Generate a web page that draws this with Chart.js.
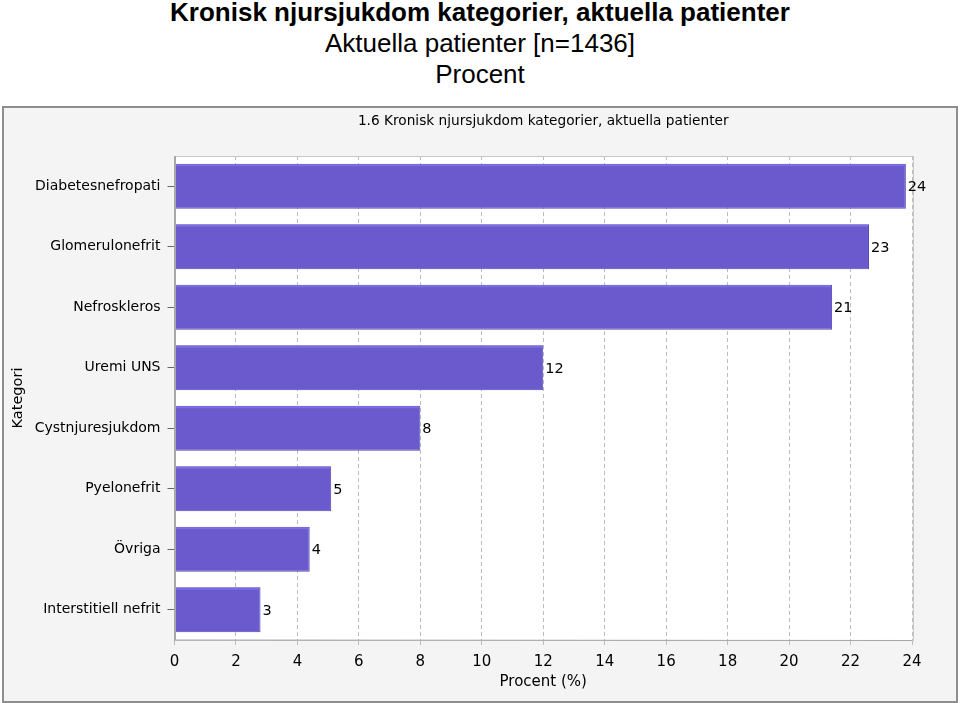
<!DOCTYPE html>
<html>
<head>
<meta charset="utf-8">
<script src="https://cdn.jsdelivr.net/npm/chart.js@4.4.1/dist/chart.umd.min.js"></script>
<style>
  html, body { margin: 0; padding: 0; background: #ffffff; width: 960px; height: 703px; overflow: hidden; }
  .hdr { position: absolute; left: 0; width: 960px; text-align: center; color: #000;
         font-family: "Liberation Sans Narrow", "Liberation Sans", Arial, sans-serif; font-size: 26px; line-height: 26px; white-space: nowrap; }
  #t1 { top: -1px; font-weight: bold; }
  #t2 { top: 30px; }
  #t3 { top: 61px; }
  #panel { position: absolute; left: 2px; top: 106px; width: 956px; height: 597px; box-sizing: border-box;
           border: 2px solid #8e8e8e; background: #f4f4f4; }
  #c { position: absolute; left: 0; top: 0; }
</style>
</head>
<body>
<div class="hdr" id="t1">Kronisk njursjukdom kategorier, aktuella patienter</div>
<div class="hdr" id="t2">Aktuella patienter [n=1436]</div>
<div class="hdr" id="t3">Procent</div>
<div id="panel"><canvas id="c" width="952" height="593"></canvas></div>
<script>
const chartTitle = "1.6 Kronisk njursjukdom kategorier, aktuella patienter";
const categories = ["Diabetesnefropati", "Glomerulonefrit", "Nefroskleros", "Uremi UNS",
                    "Cystnjuresjukdom", "Pyelonefrit", "Övriga", "Interstitiell nefrit"];
const percentValues = [23.8, 22.6, 21.4, 12.0, 8.0, 5.1, 4.4, 2.8];
const valueLabels = ["24", "23", "21", "12", "8", "5", "4", "3"];
const xAxisTitle = "Procent (%)";
const yAxisTitle = "Kategori";
const xMin = 0, xMax = 24, xStep = 2;

const FONT = "DejaVu Sans";

const decorPlugin = {
  id: 'decor',
  beforeDraw(chart) {
    const {ctx, chartArea: a} = chart;
    ctx.save();
    ctx.fillStyle = '#ffffff';
    ctx.fillRect(a.left, a.top, a.right - a.left, a.bottom - a.top);
    ctx.restore();
  },
  afterDatasetsDraw(chart) {
    const {ctx} = chart;
    const meta = chart.getDatasetMeta(0);
    ctx.save();
    ctx.strokeStyle = '#7d6ee0';
    ctx.lineWidth = 2;
    meta.data.forEach((bar) => {
      const top = bar.y - bar.height / 2;
      ctx.beginPath();
      ctx.moveTo(bar.base + 1, top + 1.5);
      ctx.lineTo(bar.x - 1, top + 1.5);
      ctx.stroke();
    });
    ctx.restore();
  },
  afterDraw(chart) {
    const {ctx, chartArea: a} = chart;
    ctx.save();
    ctx.setLineDash([]);
    ctx.strokeStyle = '#c6c6c6';
    ctx.lineWidth = 1;
    ctx.strokeRect(Math.round(a.left) + 0.5, Math.round(a.top) + 0.5, Math.round(a.right - a.left), Math.round(a.bottom - a.top));
    ctx.strokeStyle = '#a8a8a8';
    ctx.beginPath();
    ctx.moveTo(Math.round(a.left) + 0.5, a.top);
    ctx.lineTo(Math.round(a.left) + 0.5, a.bottom);
    ctx.lineTo(a.right, Math.round(a.bottom) + 0.5);
    ctx.stroke();
    ctx.fillStyle = '#000';
    ctx.font = '13.7px "' + FONT + '"';
    ctx.textAlign = 'center';
    ctx.textBaseline = 'middle';
    ctx.fillText(chartTitle, (a.left + a.right) / 2, 13);
    const meta = chart.getDatasetMeta(0);
    ctx.font = '14.5px "' + FONT + '"';
    ctx.textAlign = 'left';
    meta.data.forEach((bar, i) => {
      ctx.fillText(valueLabels[i], bar.x + 2, bar.y + 1);
    });
    ctx.restore();
  }
};

new Chart(document.getElementById('c'), {
  type: 'bar',
  data: {
    labels: categories,
    datasets: [{
      data: percentValues,
      backgroundColor: '#6a5acd',
      borderColor: '#5747b5',
      borderWidth: 1,
      borderSkipped: 'start',
      barPercentage: 0.74,
      categoryPercentage: 1.0
    }]
  },
  options: {
    indexAxis: 'y',
    responsive: false,
    animation: false,
    events: [],
    layout: { padding: { top: 48, right: 44, bottom: 0, left: 0 } },
    plugins: { legend: { display: false }, title: { display: false }, tooltip: { enabled: false } },
    scales: {
      x: {
        type: 'linear',
        min: xMin, max: xMax,
        ticks: { stepSize: xStep, color: '#000', font: { family: FONT, size: 15 }, padding: 5 },
        grid: { color: '#bdbdbd', tickColor: '#bdbdbd', tickLength: 8, lineWidth: 1, tickBorderDash: [4, 3] },
        border: { display: true, color: '#a8a8a8', dash: [4, 3] },
        title: { display: true, text: xAxisTitle, color: '#000', font: { family: FONT, size: 15 }, padding: { top: 0, bottom: 10 } },
        afterFit(scale) { scale.height = 61; }
      },
      y: {
        type: 'category',
        ticks: { color: '#000', font: { family: FONT, size: 14 }, padding: 7 },
        grid: { drawOnChartArea: false, offset: false, tickLength: 7, color: '#666', tickColor: '#666' },
        border: { display: true, color: '#a8a8a8' },
        title: { display: true, text: yAxisTitle, color: '#000', font: { family: FONT, size: 14.5 }, padding: { top: 6, bottom: 0 } },
        afterFit(scale) { scale.width = 170.5; }
      }
    }
  },
  plugins: [decorPlugin]
});
</script>
</body>
</html>
